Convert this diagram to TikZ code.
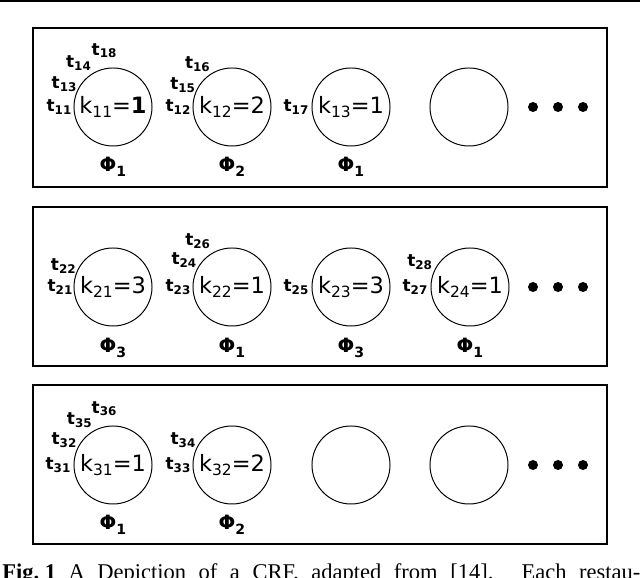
\documentclass[tikz,border=0pt]{standalone}
\usepackage{fontspec}
\setmainfont{DejaVu Sans}
\newfontfamily\capfont{Liberation Serif}
\newcommand{\tsub}[1]{t\raisebox{-0.3ex}{\fontsize{8.5}{9}\selectfont #1}}
\newcommand{\kval}[2]{k\raisebox{-0.35ex}{\fontsize{11}{11}\selectfont #1}=#2}
\newcommand{\phisub}[1]{Φ\raisebox{-0.45ex}{\fontsize{10}{10}\selectfont #1}}

\begin{document}
\begin{tikzpicture}[x=0.025cm, y=0.025cm,
    every node/.style={inner sep=0pt},
    tbl/.style={draw, circle, line width=0.7pt, minimum size=1.95cm, font=\fontsize{16}{19}\selectfont},
    tlab/.style={font=\bfseries\fontsize{12}{13}\selectfont},
    philab/.style={font=\bfseries\fontsize{14}{15}\selectfont},
    dot/.style={circle, fill, minimum size=0.25cm}]
  \clip (0,0) rectangle (640,578);
  \draw[line width=1.4pt] (0,577) -- (640,577);

  % restaurant 1
  \draw[line width=0.9pt] (33,550) rectangle (607,391);
  \node[tbl] (c11) at (113,471) {\kval{11}{\textbf{1}}};
  \node[tbl] (c12) at (232,471) {\kval{12}{2}};
  \node[tbl] (c13) at (351,471) {\kval{13}{1}};
  \node[tbl] (c14) at (469,471) {};
  \node[tlab] (t11) at ([shift={(180:54)}]c11) {\tsub{11}};
  \node[tlab] (t13) at ([shift={(155:54)}]c11) {\tsub{13}};
  \node[tlab] (t14) at ([shift={(128:56)}]c11) {\tsub{14}};
  \node[tlab] (t18) at ([shift={(99:57)}]c11) {\tsub{18}};
  \node[tlab] (t12) at ([shift={(180:54)}]c12) {\tsub{12}};
  \node[tlab] (t15) at ([shift={(156:54)}]c12) {\tsub{15}};
  \node[tlab] (t16) at ([shift={(129:55)}]c12) {\tsub{16}};
  \node[tlab] (t17) at ([shift={(180:55)}]c13) {\tsub{17}};
  \node[philab] (p11) at (113,411) {\phisub{1}};
  \node[philab] (p12) at (232,411) {\phisub{2}};
  \node[philab] (p13) at (351,411) {\phisub{1}};

  % restaurant 2
  \draw[line width=0.9pt] (33,371) rectangle (607,212);
  \node[tbl] (c21) at (113,291) {\kval{21}{3}};
  \node[tbl] (c22) at (232,291) {\kval{22}{1}};
  \node[tbl] (c23) at (351,291) {\kval{23}{3}};
  \node[tbl] (c24) at (470,291) {\kval{24}{1}};
  \node[tlab] (t21) at ([shift={(180:53)}]c21) {\tsub{21}};
  \node[tlab] (t22) at ([shift={(157:54)}]c21) {\tsub{22}};
  \node[tlab] (t23) at ([shift={(180:54)}]c22) {\tsub{23}};
  \node[tlab] (t24) at ([shift={(151:55)}]c22) {\tsub{24}};
  \node[tlab] (t26) at ([shift={(127:57)}]c22) {\tsub{26}};
  \node[tlab] (t25) at ([shift={(180:55)}]c23) {\tsub{25}};
  \node[tlab] (t27) at ([shift={(180:55)}]c24) {\tsub{27}};
  \node[tlab] (t28) at ([shift={(154:56)}]c24) {\tsub{28}};
  \node[philab] (p21) at (113,230) {\phisub{3}};
  \node[philab] (p22) at (232,230) {\phisub{1}};
  \node[philab] (p23) at (351,230) {\phisub{3}};
  \node[philab] (p24) at (470,230) {\phisub{1}};

  % restaurant 3
  \draw[line width=0.9pt] (33,193) rectangle (607,34);
  \node[tbl] (c31) at (113,113) {\kval{31}{1}};
  \node[tbl] (c32) at (232,113) {\kval{32}{2}};
  \node[tbl] (c33) at (351,113) {};
  \node[tbl] (c34) at (469,113) {};
  \node[tlab] (t31) at ([shift={(180:55)}]c31) {\tsub{31}};
  \node[tlab] (t32) at ([shift={(153:55)}]c31) {\tsub{32}};
  \node[tlab] (t35) at ([shift={(127:56)}]c31) {\tsub{35}};
  \node[tlab] (t36) at ([shift={(99:57)}]c31) {\tsub{36}};
  \node[tlab] (t33) at ([shift={(180:54)}]c32) {\tsub{33}};
  \node[tlab] (t34) at ([shift={(153:55)}]c32) {\tsub{34}};
  \node[philab] (p31) at (113,53) {\phisub{1}};
  \node[philab] (p32) at (232,53) {\phisub{2}};

  % more tables
  \foreach \r/\y in {1/471, 2/291, 3/113}
    \foreach \i/\x in {1/533, 2/558, 3/583}
      \node[dot] (d\r\i) at (\x,\y) {};

  \node[anchor=base west, font=\capfont\fontsize{16}{18}\selectfont] (cap) at (2,-2)
    {\makebox[15.95cm][s]{\textbf{Fig.\kern4pt1} A Depiction of a CRF, adapted from [14]. Each restau-}};
\end{tikzpicture}
\end{document}
